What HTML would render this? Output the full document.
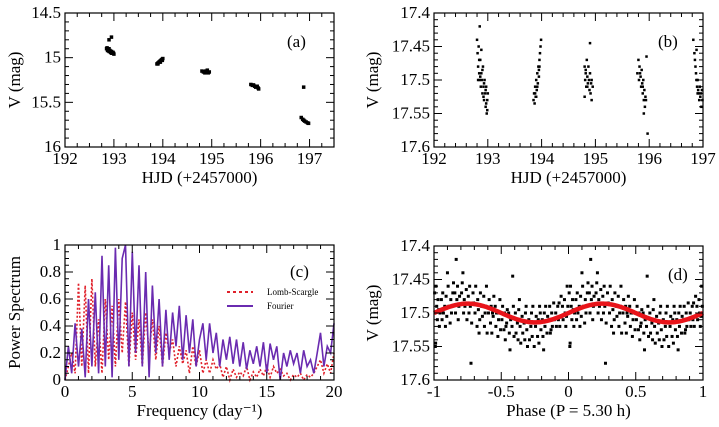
<!DOCTYPE html>
<html><head><meta charset="utf-8">
<style>
html,body{margin:0;padding:0;background:#fff;}
svg{display:block;font-family:"Liberation Serif",serif;}
text{font-family:"Liberation Serif",serif;}
</style></head>
<body>
<svg id="fig" width="719" height="427" viewBox="0 0 719 427" xmlns="http://www.w3.org/2000/svg" font-family="Liberation Serif, serif"></svg>
<script>
// ---- Panel (a) data ----
const pointsA = [[192.85,14.9],[192.87,14.92],[192.88,14.91],[192.9,14.93],[192.92,14.92],[192.93,14.94],[192.95,14.93],[192.97,14.95],[192.98,14.94],[193.0,14.96],[192.86,14.89],[192.9,14.9],[192.95,14.95],[192.99,14.95],[192.95,14.77],[192.9,14.8],
[193.88,15.07],[193.9,15.06],[193.92,15.05],[193.94,15.04],[193.96,15.03],[193.98,15.02],[194.0,15.01],[193.9,15.07],[193.95,15.05],[193.99,15.03],
[194.8,15.15],[194.83,15.16],[194.86,15.17],[194.88,15.15],[194.9,15.16],[194.93,15.17],[194.95,15.16],[194.85,15.155],[194.91,15.14],
[195.8,15.3],[195.83,15.31],[195.86,15.31],[195.88,15.32],[195.9,15.33],[195.93,15.32],[195.95,15.34],[195.85,15.305],[195.96,15.35],
[196.83,15.67],[196.86,15.69],[196.88,15.7],[196.9,15.71],[196.93,15.72],[196.96,15.73],[196.98,15.735],[196.88,15.33]];
// ---- Panel (b) data ----
const pointsB = [[192.8,17.44],[192.81,17.46],[192.82,17.48],[192.83,17.45],[192.84,17.49],[192.85,17.42],[192.85,17.5],[192.86,17.47],[192.87,17.51],[192.88,17.49],[192.89,17.5],[192.9,17.52],[192.91,17.48],[192.92,17.51],[192.93,17.53],[192.94,17.5],[192.95,17.52],[192.96,17.54],[192.97,17.51],[192.98,17.55],[192.99,17.53],[193.0,17.52],[192.88,17.455],[192.93,17.505],[192.97,17.535],[192.84,17.47],[192.86,17.495],[192.9,17.485],[192.92,17.525],[192.96,17.515],[192.99,17.545],[192.82,17.5],
[193.85,17.53],[193.86,17.52],[193.87,17.535],[193.88,17.51],[193.89,17.525],[193.9,17.5],[193.91,17.515],[193.92,17.49],[193.93,17.505],[193.94,17.48],[193.95,17.495],[193.96,17.47],[193.97,17.46],[193.98,17.45],[193.99,17.44],[193.9,17.525],[193.95,17.485],[193.88,17.52],[193.92,17.51],[193.96,17.48],
[194.8,17.48],[194.81,17.5],[194.82,17.49],[194.83,17.51],[194.84,17.47],[194.85,17.495],[194.86,17.505],[194.87,17.48],[194.88,17.5],[194.89,17.515],[194.9,17.49],[194.91,17.52],[194.92,17.505],[194.93,17.53],[194.95,17.51],[194.9,17.445],[194.8,17.525],[194.82,17.485],[194.85,17.51],[194.93,17.5],
[195.78,17.49],[195.8,17.47],[195.81,17.5],[195.82,17.48],[195.84,17.495],[195.85,17.51],[195.86,17.485],[195.87,17.505],[195.88,17.52],[195.89,17.5],[195.9,17.53],[195.91,17.515],[195.92,17.54],[195.93,17.525],[195.94,17.53],[195.9,17.55],[195.95,17.465],[195.97,17.58],[195.83,17.49],[195.88,17.51],
[196.82,17.44],[196.84,17.46],[196.85,17.47],[196.86,17.48],[196.87,17.49],[196.88,17.5],[196.89,17.51],[196.9,17.5],[196.91,17.515],[196.92,17.52],[196.93,17.53],[196.95,17.525],[196.97,17.54],[196.99,17.53],[196.88,17.455],[196.94,17.51],[196.9,17.52],[196.96,17.52],[196.98,17.515]];
// ---- Panel (c) data (frequency step 0.25 from 0 to 20) ----
const freqStep = 0.25;
const fourierPower = [0,.25,.05,.42,.1,.38,.02,.6,.1,.65,.05,.92,.1,.85,.02,.98,.15,.9,1.0,.1,.95,.2,.85,.1,.8,.02,.7,.2,.6,.1,.52,.15,.5,.25,.55,.15,.48,.2,.45,.1,.3,.42,.15,.42,.2,.35,.1,.3,.15,.32,.12,.3,.1,.28,.08,.22,.12,.25,.1,.28,.05,.27,.15,.25,0,.2,.1,.22,.12,.2,.05,.22,.1,.15,.05,.2,.35,.1,.25,.2,.42];
const lombPower = [0,.1,.2,.05,.72,.1,.7,.05,.75,.1,.45,.05,.6,.15,.55,.1,.6,.2,.58,.1,.5,.15,.45,.1,.5,.2,.45,.15,.4,.1,.35,.2,.3,.1,.25,.12,.22,.05,.25,.1,.22,.05,.15,.05,.15,.08,.12,.02,.1,0,.08,.02,.06,.03,.1,0,.06,.02,.08,.03,.1,.02,.1,.05,.08,.03,.05,0,.04,.02,.05,0,.04,.02,.05,.1,.15,.05,.12,.05,.2];
// ---- Panel (d) data (phase 0..1, plotted also at phase-1) ----
const pointsD = [[0.005,17.47],[0.01,17.55],[0.015,17.46],[0.02,17.49],[0.025,17.51],[0.03,17.48],[0.04,17.52],[0.045,17.5],[0.012,17.545],[0.035,17.495],
[.055,17.48],[.06,17.51],[.065,17.47],[.07,17.5],[.08,17.49],[.085,17.52],[.09,17.475],[.095,17.505],
[.105,17.46],[.11,17.49],[.12,17.515],[.125,17.48],[.13,17.5],[.14,17.47],[.145,17.455],[.1,17.44],
[.155,17.47],[.16,17.5],[.17,17.48],[.175,17.46],[.18,17.51],[.185,17.49],[.19,17.475],[.165,17.42],
[.205,17.47],[.21,17.455],[.22,17.5],[.225,17.48],[.23,17.49],[.24,17.465],[.245,17.51],[.215,17.44],
[.255,17.475],[.26,17.5],[.265,17.46],[.27,17.49],[.275,17.575],[.28,17.515],[.29,17.47],[.295,17.485],
[.305,17.5],[.31,17.46],[.32,17.52],[.325,17.48],[.33,17.495],[.34,17.51],[.345,17.47],[.335,17.53],
[.355,17.49],[.36,17.505],[.37,17.475],[.375,17.52],[.38,17.5],[.39,17.46],[.395,17.53],[.385,17.49],
[.405,17.5],[.41,17.48],[.42,17.515],[.425,17.49],[.43,17.53],[.44,17.505],[.445,17.475],[.435,17.5],
[.455,17.49],[.46,17.52],[.47,17.5],[.475,17.535],[.48,17.51],[.49,17.48],[.495,17.525],[.465,17.5],
[.505,17.51],[.51,17.49],[.52,17.525],[.525,17.5],[.53,17.54],[.54,17.515],[.545,17.495],[.535,17.52],
[.555,17.5],[.56,17.53],[.565,17.555],[.57,17.51],[.58,17.52],[.59,17.49],[.595,17.535],[.585,17.445],
[.605,17.5],[.61,17.53],[.62,17.515],[.625,17.54],[.63,17.495],[.64,17.52],[.645,17.545],[.635,17.48],
[.655,17.505],[.66,17.53],[.67,17.515],[.675,17.54],[.68,17.5],[.69,17.525],[.695,17.55],[.685,17.49],
[.705,17.51],[.71,17.54],[.72,17.52],[.725,17.5],[.73,17.535],[.74,17.515],[.745,17.55],[.735,17.49],
[.755,17.52],[.76,17.505],[.77,17.535],[.775,17.51],[.78,17.545],[.79,17.5],[.795,17.525],[.785,17.49],
[.805,17.51],[.81,17.535],[.82,17.5],[.825,17.52],[.83,17.49],[.84,17.53],[.845,17.505],[.815,17.555],
[.855,17.51],[.86,17.49],[.87,17.525],[.875,17.5],[.88,17.52],[.89,17.485],[.895,17.51],[.865,17.53],
[.905,17.5],[.91,17.52],[.92,17.49],[.925,17.51],[.93,17.485],[.94,17.505],[.945,17.475],[.935,17.52],
[.955,17.49],[.96,17.51],[.97,17.48],[.975,17.5],[.98,17.52],[.99,17.46],[.995,17.49],[.985,17.505]];
const fitMean = 17.5;
const fitAmplitude = 0.014;

const NS='http://www.w3.org/2000/svg';
const svg=document.getElementById('fig');
const FF='Liberation Serif, serif';
function mk(tag,attrs,parent){const e=document.createElementNS(NS,tag);for(const k in attrs)e.setAttribute(k,attrs[k]);if(tag==='text')e.setAttribute('font-family',FF);(parent||svg).appendChild(e);return e;}
function fmt(v){return String(+v.toFixed(3));}

function panel(o){
  const g=mk('g',{});
  
  
  const sx=v=>o.x0+(v-o.xmin)/(o.xmax-o.xmin)*(o.x1-o.x0);
  const sy=v=>o.inv? o.y0+(v-o.ymin)/(o.ymax-o.ymin)*(o.y1-o.y0) : o.y1-(v-o.ymin)/(o.ymax-o.ymin)*(o.y1-o.y0);
  const plot=mk('g',{},g);
  
  
  o.draw(plot,sx,sy);
  const fr=mk('rect',{x:o.x0,y:o.y0,width:o.x1-o.x0,height:o.y1-o.y0,fill:'none',stroke:'#000','stroke-width':1.2},g);
  
  
  const tg=mk('g',{stroke:'#000','stroke-width':1},g);
  
  
  for(let i=0;;i++){const v=o.xmin+i*o.xminor; if(v>o.xmax+1e-9)break;
    const maj=Math.abs(v/o.xmajor-Math.round(v/o.xmajor))<1e-6;
    const L=maj?8:4,X=sx(v);
    mk('line',{x1:X,x2:X,y1:o.y1,y2:o.y1-L},tg);mk('line',{x1:X,x2:X,y1:o.y0,y2:o.y0+L},tg);}
  for(let i=0;;i++){const v=o.ymin+i*o.yminor; if(v>o.ymax+1e-9)break;
    const maj=Math.abs(v/o.ymajor-Math.round(v/o.ymajor))<1e-6;
    const L=maj?8:4,Y=sy(v);
    mk('line',{y1:Y,y2:Y,x1:o.x0,x2:o.x0+L},tg);mk('line',{y1:Y,y2:Y,x1:o.x1,x2:o.x1-L},tg);}
  const lg=mk('g',{'font-size':17,fill:'#000'},g);
  
  
  o.xticks.forEach(v=>{const t=mk('text',{x:sx(v),y:o.y1+17,'text-anchor':'middle'},lg);t.textContent=fmt(v);});
  o.yticks.forEach(v=>{const t=mk('text',{x:o.x0-4,y:sy(v)+5,'text-anchor':'end'},lg);t.textContent=fmt(v);});
  const xt=mk('text',{x:(o.x0+o.x1)/2,y:o.y1+36,'text-anchor':'middle','font-size':17},g);
  xt.textContent=o.xlabel;
  
  
  const yx=o.ylx, yy=(o.y0+o.y1)/2;
  const yt=mk('text',{x:yx,y:yy,'text-anchor':'middle','font-size':17,transform:`rotate(-90 ${yx} ${yy})`},g);
  yt.textContent=o.ylabel;
  
  
  const pl=mk('text',{x:o.lab[0],y:o.lab[1],'font-size':17},g);
  pl.textContent=o.tag;
  
  
  return {sx,sy,g};
}

function dots(parent,pts,sx,sy,r,nm){
  pts.forEach(p=>{const c=mk('rect',{x:sx(p[0])-r/2,y:sy(p[1])-r/2,width:r,height:r,fill:'#000'},parent);
    
    });
}

panel({name:'panel-a',x0:65,x1:334,y0:13,y1:147,xmin:192,xmax:197.5,ymin:14.5,ymax:16,inv:true,
  xmajor:1,xminor:0.25,ymajor:0.5,yminor:0.1,xticks:[192,193,194,195,196,197],yticks:[14.5,15,15.5,16],
  xlabel:'HJD (+2457000)',ylabel:'V (mag)',ylx:20,tag:'(a)',lab:[287,47],
  draw:(g,sx,sy)=>dots(g,pointsA,sx,sy,3.5,'data-point-a')});

panel({name:'panel-b',x0:434,x1:703,y0:13,y1:147,xmin:192,xmax:197,ymin:17.4,ymax:17.6,inv:true,
  xmajor:1,xminor:0.2,ymajor:0.05,yminor:0.01,xticks:[192,193,194,195,196,197],yticks:[17.4,17.45,17.5,17.55,17.6],
  xlabel:'HJD (+2457000)',ylabel:'V (mag)',ylx:378,tag:'(b)',lab:[658,47],
  draw:(g,sx,sy)=>dots(g,pointsB,sx,sy,2.5,'data-point-b')});

panel({name:'panel-c',x0:65,x1:334,y0:245,y1:380,xmin:0,xmax:20,ymin:0,ymax:1,inv:false,
  xmajor:5,xminor:1,ymajor:0.2,yminor:0.05,xticks:[0,5,10,15,20],yticks:[0,0.2,0.4,0.6,0.8,1],
  xlabel:'Frequency (day\u207B\u00B9)',ylabel:'Power Spectrum',ylx:20,tag:'(c)',lab:[290,277],
  draw:(g,sx,sy)=>{
    const path=arr=>arr.map((v,i)=>(i?'L':'M')+sx(i*freqStep).toFixed(1)+','+sy(v).toFixed(1)).join('');
    const l=mk('path',{d:path(lombPower),fill:'none',stroke:'#e0202a','stroke-width':1.6,'stroke-dasharray':'2,2'},g);
    
    
    const f=mk('path',{d:path(fourierPower),fill:'none',stroke:'#6a2bb0','stroke-width':1.6},g);
    
    
  }});
const leg=mk('g',{});


const l1=mk('line',{x1:227,x2:253,y1:292,y2:292,stroke:'#e0202a','stroke-width':2,'stroke-dasharray':'3,3'},leg);


const t1=mk('text',{x:267,y:295,'font-size':9},leg);t1.textContent='Lomb-Scargle';


const l2=mk('line',{x1:227,x2:253,y1:306,y2:306,stroke:'#6a2bb0','stroke-width':2},leg);


const t2=mk('text',{x:267,y:309,'font-size':9},leg);t2.textContent='Fourier';



panel({name:'panel-d',x0:434,x1:703,y0:246,y1:380,xmin:-1,xmax:1,ymin:17.4,ymax:17.6,inv:true,
  xmajor:0.5,xminor:0.1,ymajor:0.05,yminor:0.01,xticks:[-1,-0.5,0,0.5,1],yticks:[17.4,17.45,17.5,17.55,17.6],
  xlabel:'Phase (P = 5.30 h)',ylabel:'V (mag)',ylx:378,tag:'(d)',lab:[668,280],
  draw:(g,sx,sy)=>{
    dots(g,pointsD,sx,sy,3,'data-point-d');
    dots(g,pointsD.map(p=>[p[0]-1,p[1]]),sx,sy,3,'data-point-d');
    let d='';
    for(let i=0;i<=200;i++){const ph=-1+i*0.01;const v=fitMean-fitAmplitude*Math.sin(2*Math.PI*ph);d+=(i?'L':'M')+sx(ph).toFixed(1)+','+sy(v).toFixed(1);}
    const c=mk('path',{d:d,fill:'none',stroke:'#e8141a','stroke-width':4.5},g);
    
    
  }});
</script>
</body></html>
